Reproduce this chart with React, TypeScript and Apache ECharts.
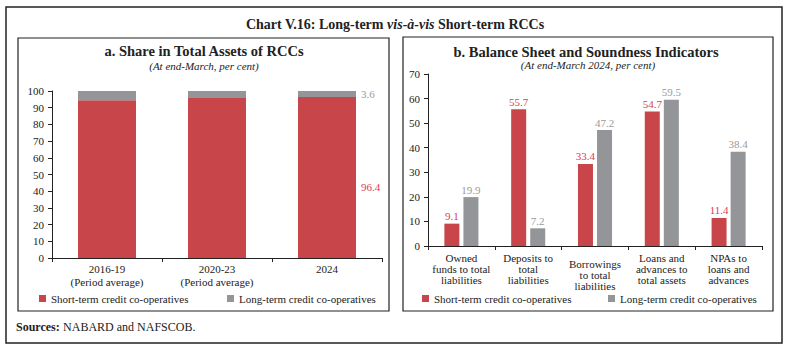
import React, { useEffect, useRef } from "react";
import * as echarts from "echarts";

const SHORT = "Short-term credit co-operatives";
const LONG = "Long-term credit co-operatives";

const catsA = ["2016-19\n(Period average)", "2020-23\n(Period average)", "2024"];
const shortA = [94.4, 95.8, 96.4];
const longA = [5.6, 4.2, 3.6];

const catsB = [
  "Owned\nfunds to total\nliabilities",
  "Deposits to\ntotal\nliabilities",
  "Borrowings\nto total\nliabilities",
  "Loans and\nadvances to\ntotal assets",
  "NPAs to\nloans and\nadvances",
];
const shortB = [9.1, 55.7, 33.4, 54.7, 11.4];
const longB = [19.9, 7.2, 47.2, 59.5, 38.4];

const RED = "#C8464A";
const GREY = "#939598";
const RED_LBL = "#D6424F";
const GREY_LBL = "#9A9A9A";
const FONT = "Liberation Serif";
const INK = "#222";

export default function App() {
  const ref = useRef<HTMLDivElement>(null);
  useEffect(() => {
    if (!ref.current) return;
    const chart = echarts.init(ref.current, null, { renderer: "svg" });
    const axisLine = { show: true, lineStyle: { color: INK, width: 1 } };
    const axisTick = { show: true, length: 4, lineStyle: { color: INK } };
    const last = shortA.length - 1;
    const legendBase = {
      itemWidth: 7, itemHeight: 7, icon: "rect", padding: 0,
      textStyle: { fontFamily: FONT, fontSize: 11, color: INK },
    };
    chart.setOption({
      animation: false,
      textStyle: { fontFamily: FONT },
      graphic: [
        { type: "rect", shape: { x: 6, y: 7, width: 776, height: 336 }, style: { fill: "none", stroke: INK, lineWidth: 1.5 } },
        { type: "rect", shape: { x: 18, y: 38, width: 371, height: 273 }, style: { fill: "none", stroke: INK, lineWidth: 1.2 } },
        { type: "rect", shape: { x: 403, y: 37, width: 370, height: 274 }, style: { fill: "none", stroke: INK, lineWidth: 1.2 } },
        {
          type: "text", x: 395, y: 24,
          style: {
            text: "{a|Chart V.16: Long-term }{b|vis-à-vis}{a| Short-term RCCs}",
            align: "center", verticalAlign: "middle",
            rich: {
              a: { fontFamily: FONT, fontSize: 14, fontWeight: "bold", fill: INK },
              b: { fontFamily: FONT, fontSize: 14, fontWeight: "bold", fontStyle: "italic", fill: INK },
            },
          },
        },
        { type: "text", x: 204, y: 51, style: { text: "a. Share in Total Assets of RCCs", align: "center", verticalAlign: "middle", font: `bold 14.5px ${FONT}`, fill: INK } },
        { type: "text", x: 204, y: 66, style: { text: "(At end-March, per cent)", align: "center", verticalAlign: "middle", font: `italic 11px ${FONT}`, fill: INK } },
        { type: "text", x: 586, y: 52, style: { text: "b. Balance Sheet and Soundness Indicators", align: "center", verticalAlign: "middle", font: `bold 14.5px ${FONT}`, fill: INK } },
        { type: "text", x: 588, y: 65, style: { text: "(At end-March 2024, per cent)", align: "center", verticalAlign: "middle", font: `italic 11px ${FONT}`, fill: INK } },
        {
          type: "text", x: 16, y: 327,
          style: {
            text: "{b|Sources:} {a|NABARD and NAFSCOB.}",
            verticalAlign: "middle",
            rich: {
              a: { fontFamily: FONT, fontSize: 12, fill: INK },
              b: { fontFamily: FONT, fontSize: 12, fontWeight: "bold", fill: INK },
            },
          },
        },
      ],
      legend: [
        { ...legendBase, data: [SHORT], left: 39, top: 293 },
        { ...legendBase, data: [LONG], left: 227, top: 293 },
        { ...legendBase, data: [SHORT], left: 422, top: 293 },
        { ...legendBase, data: [LONG], left: 608, top: 293 },
      ],
      grid: [
        { left: 52, right: 406, top: 91, bottom: 93, containLabel: false },
        { left: 428, right: 26, top: 74, bottom: 105, containLabel: false },
      ],
      xAxis: [
        {
          type: "category", gridIndex: 0, data: catsA,
          axisLine, axisTick,
          axisLabel: { color: INK, fontFamily: FONT, fontSize: 11, lineHeight: 13, margin: 4 },
        },
        {
          type: "category", gridIndex: 1,
          data: catsB.map((c, i) => (i === 2 ? { value: c, textStyle: { padding: [6, 0, 0, 0] } } : c)),
          axisLine, axisTick,
          axisLabel: { color: INK, fontFamily: FONT, fontSize: 11, lineHeight: 11, margin: 6, interval: 0 },
        },
      ],
      yAxis: [
        {
          type: "value", gridIndex: 0, min: 0, max: 100, interval: 10,
          axisLine, axisTick, splitLine: { show: false },
          axisLabel: { color: INK, fontFamily: FONT, fontSize: 11, margin: 8 },
        },
        {
          type: "value", gridIndex: 1, min: 0, max: 70, interval: 10,
          axisLine, axisTick, splitLine: { show: false },
          axisLabel: { color: INK, fontFamily: FONT, fontSize: 11, margin: 8 },
        },
      ],
      series: [
        {
          name: SHORT, type: "bar", xAxisIndex: 0, yAxisIndex: 0, stack: "a", barWidth: 58,
          itemStyle: { color: RED },
          data: shortA.map((v, i) =>
            i === last
              ? { value: v, label: { show: true, position: "right", offset: [0, 9], color: RED_LBL, fontSize: 11, fontFamily: FONT } }
              : v
          ),
        },
        {
          name: LONG, type: "bar", xAxisIndex: 0, yAxisIndex: 0, stack: "a", barWidth: 58,
          itemStyle: { color: GREY },
          data: longA.map((v, i) =>
            i === last
              ? { value: v, label: { show: true, position: "right", color: GREY_LBL, fontSize: 11, fontFamily: FONT } }
              : v
          ),
        },
        {
          name: SHORT, type: "bar", xAxisIndex: 1, yAxisIndex: 1, barWidth: 15, barGap: "27%",
          itemStyle: { color: RED },
          label: { show: true, position: "top", distance: 2, color: RED_LBL, fontSize: 11, fontFamily: FONT },
          data: shortB,
        },
        {
          name: LONG, type: "bar", xAxisIndex: 1, yAxisIndex: 1, barWidth: 15, barGap: "27%",
          itemStyle: { color: GREY },
          label: { show: true, position: "top", distance: 2, color: GREY_LBL, fontSize: 11, fontFamily: FONT },
          data: longB,
        },
      ],
    });
    return () => chart.dispose();
  }, []);
  return (
    <div
      ref={ref}
      style={{ position: "fixed", left: 0, top: 0, width: 788, height: 351, background: "#fff" }}
    />
  );
}
